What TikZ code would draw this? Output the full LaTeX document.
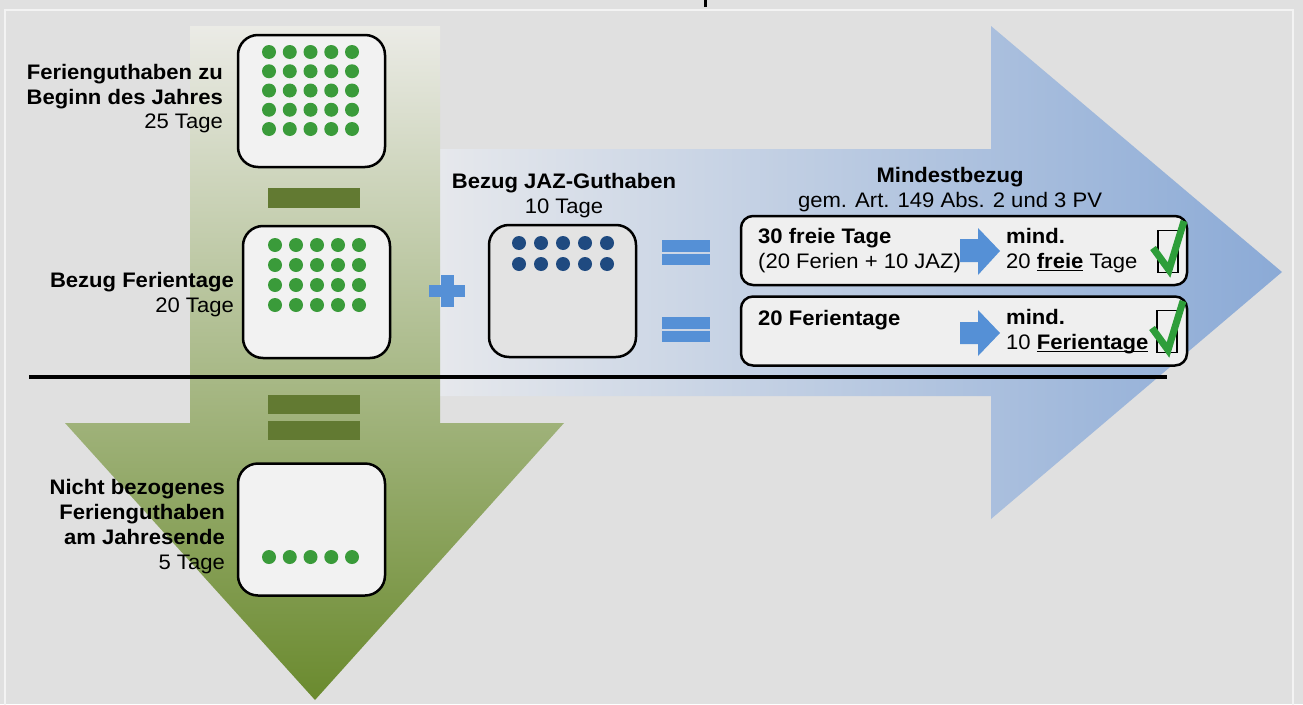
\documentclass[tikz,border=0pt]{standalone}
\usepackage{fontspec}
\setmainfont{Liberation Sans}[FakeStretch=1.05]
\definecolor{bg}{HTML}{E0E0E0}
\definecolor{framec}{HTML}{F3F3F3}
\definecolor{gdot}{HTML}{3A9B3A}
\definecolor{gbar}{HTML}{627A32}
\definecolor{boxfill}{HTML}{F2F2F2}
\definecolor{jazfill}{HTML}{E3E3E3}
\definecolor{bdot}{HTML}{1F4A80}
\definecolor{bsym}{HTML}{5590D6}
\definecolor{mfill}{HTML}{EFEFEF}
\definecolor{chk}{HTML}{2E9E3A}
\definecolor{gtop}{HTML}{EBEBE6}
\definecolor{gbot}{HTML}{6A8A2E}
\definecolor{bleft}{HTML}{E6E8EC}
\definecolor{bright}{HTML}{8BAAD6}
\newcommand{\myul}[1]{\setbox0\hbox{#1}\rlap{\rule[-3.2pt]{\wd0}{1.8pt}}\box0\relax}
\begin{document}
\begin{tikzpicture}[x=1pt,y=-1pt,
  lbl/.style={font=\fontsize{21}{24.5}\selectfont, inner sep=0pt, text=black},
  daybox/.style={draw=black, line width=2.5pt, rounded corners=20pt, fill=boxfill, inner sep=0pt, minimum width=147pt, minimum height=132pt},
  jazbox/.style={daybox, fill=jazfill},
  minbox/.style={draw=black, line width=2.5pt, rounded corners=12pt, fill=mfill, inner sep=0pt, minimum width=446pt, minimum height=69pt},
  gd/.style={fill=gdot},
  bd/.style={fill=bdot},
  bar/.style={fill=gbar},
  sym/.style={fill=bsym},
  cbox/.style={draw=black, line width=1.3pt, inner sep=0pt, minimum width=20pt, minimum height=42pt},
  check/.style={draw=chk, line width=7pt, line join=miter, line cap=butt}]
\useasboundingbox (0,0) rectangle (1303,704);
\fill[bg] (0,0) rectangle (1303,704);
\draw[framec, line width=2pt] (5,720) -- (5,10) -- (1293,10) -- (1293,720);
\fill[black] (704,0) rectangle (707,7);
% blue arrow
\shade[left color=bleft, right color=bright] (440,149) -- (991,149) -- (991,26) -- (1282,272) -- (991,519) -- (991,396) -- (440,396) -- cycle;
% green arrow
\shade[top color=gtop, bottom color=gbot] (190,26) -- (440,26) -- (440,423) -- (564,423) -- (315,700) -- (65,423) -- (190,423) -- cycle;
% separator line
\coordinate (la) at (29,377);
\coordinate (lb) at (1167,377);
\draw[black, line width=4.5pt] (la) -- (lb);
% day boxes
\node[daybox] (b1) at (311.5,101) {};
\node[daybox] (b2) at (316.5,292) {};
\node[daybox] (b3) at (311.5,529.5) {};
\node[jazbox] (jaz) at (562.5,291) {};
\foreach \r in {0,...,4} \foreach \c in {0,...,4} \fill[gd] (269+\c*20.75,52+\r*19.25) circle (7pt);
\foreach \r in {0,...,3} \foreach \c in {0,...,4} \fill[gd] (275+\c*21,245+\r*20) circle (7pt);
\foreach \c in {0,...,4} \fill[gd] (269+\c*20.75,557) circle (7pt);
\foreach \r in {0,1} \foreach \c in {0,...,4} \fill[bd] (519+\c*22,243+\r*21) circle (7pt);
% minus / equals bars
\fill[bar] (268,188) rectangle (360,208);
\fill[bar] (268,395) rectangle (360,414);
\fill[bar] (268,421) rectangle (360,440);
% plus and equals
\fill[sym] (429,285) rectangle (465,297);
\fill[sym] (441,275) rectangle (454,307);
\fill[sym] (662,240) rectangle (710,252);
\fill[sym] (662,254) rectangle (710,265);
\fill[sym] (662,317) rectangle (710,329);
\fill[sym] (662,331) rectangle (710,342);
% labels left
\node[lbl, anchor=east, align=right] (t1) at (223,99) {\textbf{Ferienguthaben zu}\\\textbf{Beginn des Jahres}\\25 Tage};
\node[lbl, anchor=east, align=right] (t2) at (234,294.5) {\textbf{Bezug Ferientage}\\20 Tage};
\node[lbl, anchor=east, align=right, font=\fontsize{21}{25}\selectfont] (t3) at (225,527) {\textbf{Nicht bezogenes}\\\textbf{Ferienguthaben}\\\textbf{am Jahresende}\\5 Tage};
\node[lbl, align=center] (t4) at (564,195.5) {\textbf{Bezug JAZ-Guthaben}\\10 Tage};
\node[lbl, align=center] (t5) at (950,189.5) {\textbf{Mindestbezug}\\gem. Art. 149 Abs. 2 und 3 PV};
% Mindestbezug boxes
\node[minbox] (ma) at (964,250.5) {};
\node[minbox] (mb) at (964,331) {};
\node[lbl, anchor=west, align=left] (t6) at (758,250.5) {\textbf{30 freie Tage}\\(20 Ferien + 10 JAZ)};
\node[lbl, anchor=west, align=left] (t7) at (1006,250.5) {\textbf{mind.}\\20 \myul{\textbf{freie}} Tage};
\node[lbl, anchor=west, align=left] (t8) at (758,320) {\textbf{20 Ferientage}};
\node[lbl, anchor=west, align=left] (t9) at (1006,331.5) {\textbf{mind.}\\10 \myul{\textbf{Ferientage}}};
% small arrows
\fill[sym] (960,239) -- (978,239) -- (978,228) -- (1000,251) -- (978,275) -- (978,262) -- (960,262) -- cycle;
\fill[sym] (960,322) -- (978,322) -- (978,310) -- (1000,333) -- (978,356) -- (978,344) -- (960,344) -- cycle;
% check boxes
\node[cbox] (c1) at (1168,251.5) {};
\node[cbox] (c2) at (1167,331.5) {};
\draw[check] (1153,248) -- (1169,270) -- (1184,221);
\draw[check] (1152,328) -- (1168,350) -- (1183,301);
\end{tikzpicture}
\end{document}
